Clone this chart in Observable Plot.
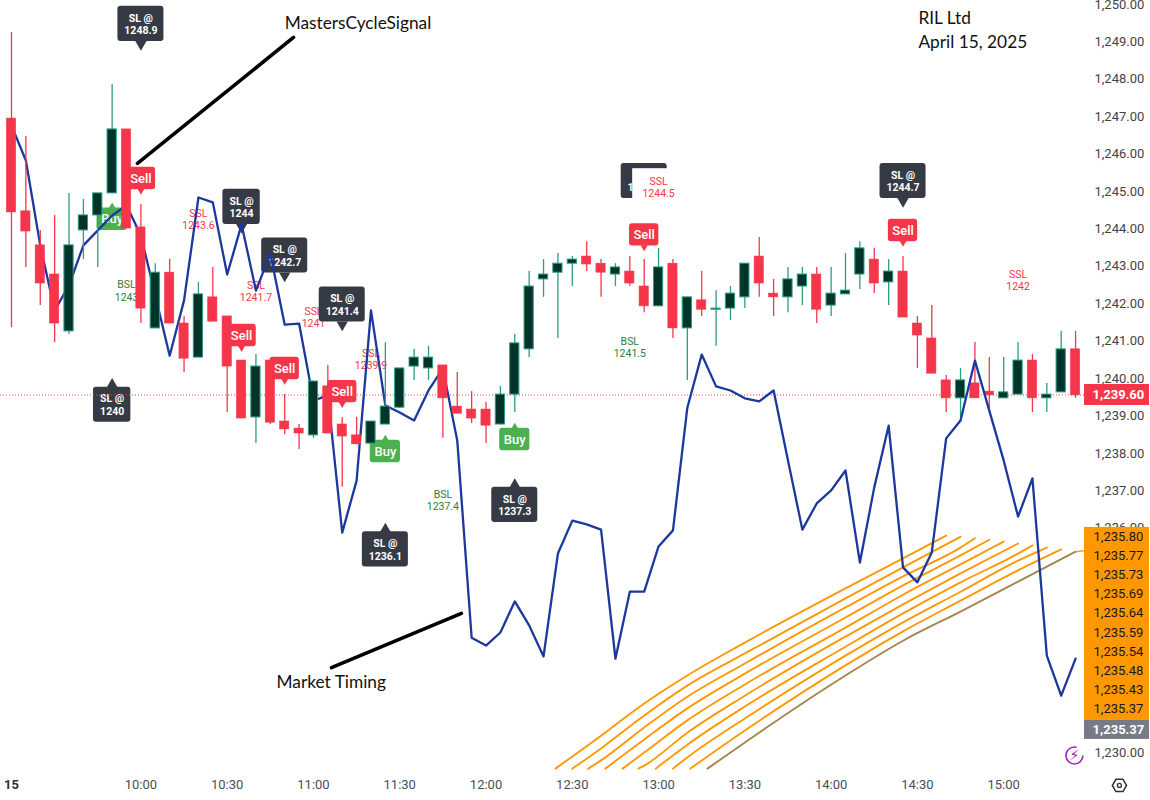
<!DOCTYPE html>
<html>
<head>
<meta charset="utf-8">
<style>
html,body{margin:0;padding:0;background:#fff;}
svg{display:block;}
</style>
<script src="https://cdn.jsdelivr.net/npm/d3@7"></script>
<script src="https://cdn.jsdelivr.net/npm/@observablehq/plot@0.6"></script>
</head>
<body>
<div id="chart"></div>
<script>
// ---- 5-minute candles, 09:15 onward ----
const barOpen = [1246.95,1244.47,1243.56,1242.78,1241.26,1243.96,1244.36,1244.95,1246.66,1244.04,1241.34,1242.83,1241.47,1240.56,1242.17,1241.66,1240.48,1238.96,1240.48,1238.85,1238.66,1238.48,1239.79,1238.77,1238.48,1238.26,1238.77,1239.22,1240.32,1240.27,1240.35,1239.25,1239.17,1239.17,1238.77,1239.57,1240.78,1242.65,1242.83,1243.07,1243.26,1243.07,1242.78,1242.86,1242.46,1241.93,1243.07,1241.34,1242.09,1241.84,1241.87,1242.17,1243.26,1242.27,1242.17,1242.46,1242.78,1241.95,1242.25,1242.78,1243.18,1242.57,1242.86,1241.47,1241.07,1239.95,1239.47,1239.87,1239.65,1239.47,1239.57,1240.48,1239.47,1239.63,1240.78];
const barHigh = [1249.25,1246.47,1243.96,1244.36,1244.95,1244.79,1244.95,1247.86,1246.66,1244.65,1243.07,1243.18,1241.66,1242.57,1242.97,1241.66,1240.48,1240.64,1240.48,1239.57,1238.77,1239.92,1240.35,1238.96,1238.96,1238.85,1240.96,1240.27,1240.78,1240.86,1240.35,1240.16,1239.65,1239.36,1239.79,1241.18,1242.86,1243.18,1243.34,1243.26,1243.66,1243.18,1243.07,1243.26,1243.18,1243.48,1243.18,1242.17,1242.86,1242.35,1242.46,1243.07,1243.77,1242.65,1242.97,1242.97,1242.97,1242.97,1243.34,1243.66,1243.48,1243.18,1243.26,1241.66,1241.95,1240.08,1240.27,1240.96,1240.56,1240.56,1240.96,1240.64,1239.87,1241.26,1241.26];
const barLow = [1241.36,1242.97,1241.95,1240.96,1241.18,1243.18,1242.97,1244.95,1244.01,1241.47,1241.34,1241.47,1240.16,1240.56,1241.52,1239.09,1238.93,1238.26,1238.77,1238.50,1238.10,1238.40,1238.53,1237.09,1238.24,1238.26,1238.77,1239.20,1239.95,1239.95,1238.40,1239.06,1238.80,1238.26,1238.77,1239.09,1240.56,1242.17,1241.07,1242.46,1242.86,1242.17,1242.46,1242.46,1241.76,1241.93,1241.07,1239.95,1241.66,1240.86,1241.55,1241.87,1242.17,1241.66,1241.76,1241.95,1241.47,1241.66,1242.25,1242.38,1242.27,1241.95,1241.63,1240.27,1240.13,1239.09,1238.96,1239.47,1239.14,1239.47,1239.57,1239.09,1239.09,1239.63,1239.47];
const barClose = [1244.44,1243.93,1242.54,1241.47,1243.56,1244.36,1244.95,1246.66,1244.01,1241.87,1242.83,1241.47,1240.53,1242.25,1241.52,1240.32,1238.93,1240.32,1238.82,1238.64,1238.53,1239.92,1238.53,1238.45,1238.24,1238.85,1239.25,1240.27,1240.56,1240.56,1239.47,1239.06,1238.93,1238.74,1239.57,1240.94,1242.46,1242.78,1243.07,1243.18,1243.05,1242.83,1242.97,1242.54,1241.93,1242.97,1241.34,1242.17,1241.84,1241.87,1242.27,1243.07,1242.54,1242.17,1242.65,1242.78,1241.84,1242.27,1242.35,1243.48,1242.54,1242.86,1241.63,1241.15,1240.13,1239.47,1239.95,1239.47,1239.55,1239.63,1240.48,1239.47,1239.57,1240.78,1239.55];

// ---- blue "Market Timing" line, one value per bar ----
const marketTiming = [1246.76,1245.83,1243.56,1241.82,1242.49,1243.56,1243.96,1244.36,1244.63,1243.82,1242.22,1240.61,1242.09,1244.84,1244.71,1242.78,1244.12,1242.35,1243.34,1241.44,1241.47,1239.41,1239.55,1235.88,1237.27,1241.82,1239.28,1239.09,1238.88,1239.68,1240.27,1238.34,1233.07,1232.86,1233.21,1234.04,1233.40,1232.57,1235.32,1236.20,1236.10,1235.96,1232.51,1234.30,1234.30,1235.51,1235.94,1239.22,1240.64,1239.79,1239.68,1239.47,1239.39,1239.68,1237.81,1235.96,1236.66,1237.01,1237.54,1235.08,1237.09,1238.74,1234.95,1234.55,1235.35,1238.40,1238.88,1240.48,1239.14,1237.81,1236.31,1237.33,1232.59,1231.52,1232.51];

// ---- orange ribbon: each line as bars + values ----
const ribbonBars = [
  [37.83,41,44,47,51,58,62,65],
  [39,41,44,47,51,58,62,66],
  [40.1,41,44,47,51,58,62,66,67],
  [41.3,44,47,51,58,62,66,68],
  [42.5,44,47,51,58,62,66,69],
  [43.6,44,47,51,58,62,66,70],
  [44.8,47,51,58,62,66,70,71],
  [46,47,51,58,62,66,70,72],
  [47.2,51,58,62,66,70,73],
  [48.4,51,58,62,66,70,74]
];
const ribbonValues = [
  [1229.57,1230.45,1231.31,1232.06,1232.94,1234.39,1235.19,1235.80],
  [1229.57,1230.11,1230.99,1231.79,1232.65,1234.12,1234.95,1235.77],
  [1229.57,1229.79,1230.67,1231.49,1232.38,1233.88,1234.71,1235.48,1235.73],
  [1229.57,1230.35,1231.18,1232.11,1233.61,1234.47,1235.27,1235.69],
  [1229.57,1230.00,1230.86,1231.82,1233.34,1234.22,1235.03,1235.64],
  [1229.57,1229.65,1230.53,1231.52,1233.10,1233.96,1234.79,1235.59],
  [1229.57,1230.21,1231.23,1232.83,1233.72,1234.55,1235.32,1235.54],
  [1229.57,1229.87,1230.91,1232.59,1233.48,1234.30,1235.13,1235.48],
  [1229.57,1230.59,1232.33,1233.24,1234.06,1234.87,1235.43],
  [1229.57,1230.27,1232.06,1232.99,1233.77,1234.57,1235.37]
];
const ribbonStubBars = [74,74.6];
const ribbonStubValues = [1235.37,1235.40];
const ribbonLabels = ["1,235.80","1,235.77","1,235.73","1,235.69","1,235.64","1,235.59","1,235.54","1,235.48","1,235.43","1,235.37"];
const ribbonLast = "1,235.37";

// ---- signal labels ----
const slBars   = [9,16,19,23,7,26,35,44,62];
const slPrices = [1249.48,1244.59,1243.29,1241.98,1239.30,1235.43,1236.62,1245.28,1245.28];
const slText   = ["1248.9","1244","1242.7","1241.4","1240","1236.1","1237.3","1244.5","1244.7"];
const slPoint  = ["down","down","down","down","up","up","up","none","down"];

const sellBars   = [9,16,19,23,44,62];
const sellPrices = [1245.35,1241.15,1240.27,1239.65,1243.84,1243.96];
const buyBars    = [7,26,35];
const buyPrices  = [1244.26,1238.05,1238.37];

const levelBars   = [13,8,17,21,25,30,43,70];
const levelPrices = [1244.25,1242.35,1242.33,1241.63,1240.53,1236.74,1240.83,1242.62];
const levelText   = ["SSL\n1243.6","BSL\n1243","SSL\n1241.7","SSL\n1241","SSL\n1239.9","BSL\n1237.4","BSL\n1241.5","SSL\n1242"];
const coverBar = 45, coverPrice = 1245.11, coverText = "SSL\n1244.5";

const lastPrice = 1239.56, lastPriceLabel = "1,239.60";

// ---- axes ----
const priceTicks = [1230,1236,1237,1238,1239,1240,1241,1242,1243,1244,1245,1246,1247,1248,1249,1250];
const timeBars = [9,15,21,27,33,39,45,51,57,63,69];
const timeLabels = ["10:00","10:30","11:00","11:30","12:00","12:30","13:00","13:30","14:00","14:30","15:00"];

// ---- build tables ----
const bars = barOpen.map((o,i)=>({i,o,h:barHigh[i],l:barLow[i],c:barClose[i]}));
const up = bars.filter(d=>d.c>=d.o), down = bars.filter(d=>d.c<d.o);
const timing = marketTiming.map((v,i)=>({i,v}));
const ribbon = ribbonBars.map((b,k)=>b.map((i,j)=>({i,v:ribbonValues[k][j]})));
const stub = ribbonStubBars.map((i,j)=>({i,v:ribbonStubValues[j]}));
const sl = slBars.map((i,k)=>({i,p:slPrices[k],t:"SL @\n"+slText[k],dir:slPoint[k],w:slText[k].length>4?1.6:1.3}));
const sells = sellBars.map((i,k)=>({i,p:sellPrices[k]}));
const buys = buyBars.map((i,k)=>({i,p:buyPrices[k]}));
const levels = levelBars.map((i,k)=>({i,p:levelPrices[k],t:levelText[k]}));

const RED="#f5364a", GREEN_W="#2b9d80", GREEN_F="#00332a", DARK="#363a45", BLUE="#1c389c", ORANGE="#ff9800", FONT="Roboto";
const halfBody=0.32;

function candles(test){
  const u=up.filter(test), d=down.filter(test);
  return [
    Plot.ruleX(u,{x:"i",y1:"l",y2:"h",stroke:GREEN_W,strokeWidth:1.3}),
    Plot.ruleX(d,{x:"i",y1:"l",y2:"h",stroke:RED,strokeWidth:1.3}),
    Plot.rect(u,{x1:d=>d.i-halfBody,x2:d=>d.i+halfBody,y1:"o",y2:"c",fill:GREEN_F,stroke:GREEN_W,strokeWidth:1}),
    Plot.rect(d,{x1:d=>d.i-halfBody,x2:d=>d.i+halfBody,y1:"o",y2:"c",fill:RED,stroke:RED,strokeWidth:.6})
  ];
}
const hex={draw(ctx,size){const r=Math.sqrt(size);for(let k=0;k<6;k++){const a=Math.PI/3*k;const x=r*Math.cos(a),y=r*Math.sin(a);k?ctx.lineTo(x,y):ctx.moveTo(x,y);}ctx.closePath();}};

const chart = Plot.plot({
  width:1150,height:800,
  marginLeft:0,marginRight:65,marginTop:0,marginBottom:30,
  x:{domain:[-0.765,74.69]},
  y:{domain:[1229.52,1250.107]},
  style:{background:"#fff",fontFamily:FONT,overflow:"visible"},
  marks:[
    Plot.axisY({anchor:"right",ticks:priceTicks,tickSize:0,tickPadding:9,tickFormat:d3.format(",.2f"),label:null,fontSize:13,fill:"#3f424c",fontFamily:FONT}),
    Plot.axisX({ticks:timeBars,tickSize:0,tickPadding:9,tickFormat:d=>timeLabels[timeBars.indexOf(d)],label:null,fontSize:13,fill:"#4a4d57",fontFamily:FONT}),
    Plot.axisX({ticks:[0],tickSize:0,tickPadding:9,tickFormat:()=>"15",label:null,fontSize:13,fontWeight:"bold",fill:"#2a2e39",fontFamily:FONT}),

    // level texts under the labels
    Plot.text(levels,{x:"i",y:"p",text:"t",fontSize:10.5,lineHeight:1.15,fontFamily:FONT,fill:d=>d.t[0]==="S"?RED:"#2f7d3a"}),

    // SL balloons
    Plot.rect(sl,{x1:d=>d.i-d.w,x2:d=>d.i+d.w,y1:d=>d.p-.47,y2:d=>d.p+.47,fill:DARK,rx:3}),
    Plot.dot(sl.filter(d=>d.dir==="down"),{x:"i",y:d=>d.p-.54,symbol:"triangle",r:4.2,rotate:180,fill:DARK}),
    Plot.dot(sl.filter(d=>d.dir==="up"),{x:"i",y:d=>d.p+.54,symbol:"triangle",r:4.2,fill:DARK}),
    Plot.text(sl,{x:"i",y:"p",text:"t",fill:"#fff",fontSize:10.5,fontWeight:"bold",lineHeight:1.2,fontFamily:FONT}),

    // white background of the level text covering one balloon
    Plot.rect([{i:coverBar,p:coverPrice}],{x1:d=>d.i-1.8,x2:d=>d.i+1.6,y1:d=>d.p-.48,y2:d=>d.p+.5,fill:"#fff"}),
    Plot.text([{i:coverBar,p:coverPrice,t:coverText}],{x:"i",y:"p",text:"t",fill:RED,fontSize:10.5,lineHeight:1.15,fontFamily:FONT}),

    // current price line
    Plot.ruleY([lastPrice],{stroke:RED,strokeWidth:1,strokeDasharray:"1,2"}),

    // Buy labels (sit under the candles)
    Plot.rect(buys,{x1:d=>d.i-1.05,x2:d=>d.i+1.05,y1:d=>d.p-.3,y2:d=>d.p+.3,fill:"#4caf50",rx:3}),
    Plot.dot(buys,{x:"i",y:d=>d.p+.34,symbol:"triangle",r:2.6,fill:"#4caf50"}),
    Plot.text(buys,{x:"i",y:"p",text:()=>"Buy",fill:"#fff",fontSize:13,fontFamily:FONT,fontWeight:"500"}),

    // right-hand candles sit under the blue line, the rest above it
    candles(d=>d.i>=64),

    ribbon.map((line,k)=>Plot.line(line,{x:"i",y:"v",stroke:k===9?"#a5854f":ORANGE,strokeWidth:1.9,curve:"monotone-x"})),
    Plot.line(stub,{x:"i",y:"v",stroke:ORANGE,strokeWidth:1.4}),

    Plot.line(timing,{x:"i",y:"v",stroke:BLUE,strokeWidth:2.3}),

    candles(d=>d.i<64),

    // Sell labels
    Plot.rect(sells,{x1:d=>d.i-1.02,x2:d=>d.i+1.02,y1:d=>d.p-.3,y2:d=>d.p+.3,fill:RED,rx:3}),
    Plot.dot(sells,{x:"i",y:d=>d.p-.33,symbol:"triangle",r:2.6,rotate:180,fill:RED}),
    Plot.text(sells,{x:"i",y:"p",text:()=>"Sell",fill:"#fff",fontSize:13,fontFamily:FONT,fontWeight:"500"}),

    // right-hand price labels
    Plot.rect([0],{x1:74.62,x2:79.14,y1:1230.86,y2:1236.02,fill:ORANGE}),
    Plot.rect([0],{x1:74.62,x2:79.14,y1:1230.35,y2:1230.86,fill:"#787b86"}),
    Plot.text(ribbonLabels,{x:76.98,y:(d,k)=>1235.78-k*.5135,text:d=>d,fill:"#131722",fontSize:13,fontFamily:FONT}),
    Plot.text([ribbonLast],{x:76.98,y:1230.60,text:d=>d,fill:"#fff",fontSize:13,fontWeight:"bold",fontFamily:FONT}),
    Plot.rect([0],{x1:74.62,x2:79.14,y1:lastPrice-.28,y2:lastPrice+.28,fill:RED}),
    Plot.text([lastPriceLabel],{x:76.98,y:lastPrice,text:d=>d,fill:"#fff",fontSize:13,fontWeight:"bold",fontFamily:FONT}),

    // hand-drawn annotations
    Plot.link([{x1:8.76,y1:1245.75,x2:19.61,y2:1249.12},{x1:22.25,y1:1232.27,x2:31.29,y2:1233.72}],{x1:"x1",y1:"y1",x2:"x2",y2:"y2",stroke:"#000",strokeWidth:3.6,strokeLinecap:"round"}),
    Plot.text(["MastersCycleSignal"],{x:19,y:1249.49,text:d=>d,textAnchor:"start",fontSize:17.3,fontFamily:"Lato",fill:"#111"}),
    Plot.text(["Market Timing"],{x:18.43,y:1231.88,text:d=>d,textAnchor:"start",fontSize:17.3,fontFamily:"Lato",fill:"#111"}),
    Plot.text(["RIL Ltd"],{x:63.07,y:1249.62,text:d=>d,textAnchor:"start",fontSize:17.3,fontFamily:"Lato",fill:"#111"}),
    Plot.text(["April 15, 2025"],{x:63.07,y:1248.98,text:d=>d,textAnchor:"start",fontSize:17.3,fontFamily:"Lato",fill:"#111"}),

    // chart-frame icons
    Plot.dot([0],{x:73.92,y:1229.92,r:8.5,stroke:"#9c27b0",strokeWidth:1.6,strokeDasharray:"42,12",fill:"none"}),
    Plot.text(["\u26A1"],{x:73.92,y:1229.92,text:d=>d,fill:"#9c27b0",fontSize:14,fontFamily:"DejaVu Sans"}),
    Plot.dot([0],{x:77.05,y:1229.12,symbol:hex,r:4,stroke:"#2a2e39",strokeWidth:1.5,fill:"none"}),
    Plot.dot([0],{x:77.05,y:1229.12,r:2,stroke:"#2a2e39",strokeWidth:1.3,fill:"none"})
  ]
});
document.getElementById("chart").append(chart);
</script>
</body>
</html>
